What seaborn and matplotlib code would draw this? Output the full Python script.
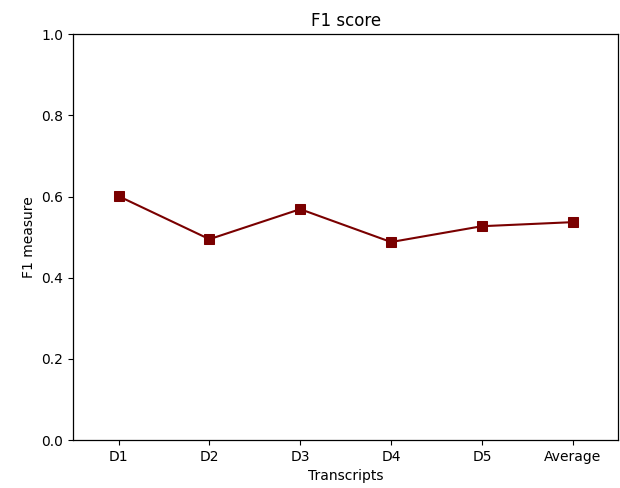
import pandas as pd
import matplotlib
matplotlib.use("Agg")
import matplotlib.pyplot as plt
import seaborn as sns

# Data
transcripts = ["D1", "D2", "D3", "D4", "D5", "Average"]
f1_values = [0.601, 0.495, 0.569, 0.488, 0.527, 0.537]

sns.set_style("ticks")
plt.rcParams['font.family'] = ['DejaVu Sans']
plt.rcParams['text.color'] = 'black'
plt.rcParams['axes.labelcolor'] = 'black'

df = pd.DataFrame({"Transcripts": transcripts, "F1 measure": f1_values})

fig, ax = plt.subplots(figsize=(6.2, 4.88), dpi=100)
fig.subplots_adjust(left=0.118, right=0.997, top=0.930, bottom=0.098)

sns.lineplot(data=df, x="Transcripts", y="F1 measure", sort=False, ax=ax,
             color="#7a0000", marker="s", markersize=7, markeredgecolor="#7a0000",
             linewidth=1.5)

ax.set_ylim(0, 1.0)
ax.set_xlim(-0.5, 5.5)
ax.set_title("F1 score", fontsize=12, color="black")
ax.set_xlabel("Transcripts", fontsize=10, color="black")
ax.set_ylabel("F1 measure", fontsize=10, color="black")
for s in ax.spines.values():
    s.set_visible(True)
    s.set_color("black")
    s.set_linewidth(0.9)
ax.tick_params(colors="black", labelsize=10)

fig.savefig("out.png", dpi=100)
plt.close(fig)
